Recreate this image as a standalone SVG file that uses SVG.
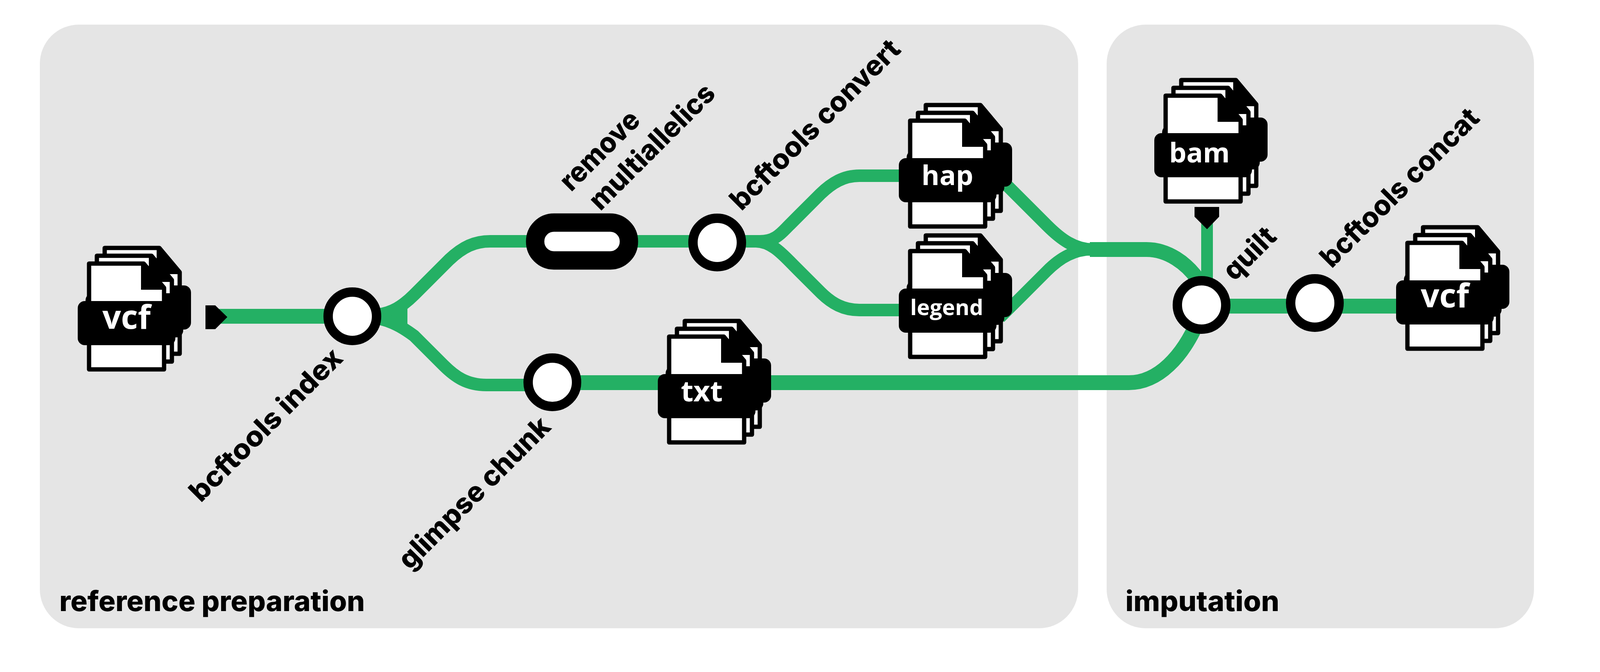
<svg xmlns="http://www.w3.org/2000/svg" width="4098" height="1721" viewBox="0 0 4098 1721">
<style>
.panel{fill:#e5e5e5}
.line{fill:none;stroke:#24b064;stroke-width:32}
.thick{stroke-width:38}
.thin{stroke-width:30}
.stop{fill:#fff;stroke:#000;stroke-width:24}
.pill{fill:#fff;stroke:#000;stroke-width:47}
.lab{font-family:"Inter","Noto Sans",sans-serif;font-weight:800;font-size:72px;fill:#000}
.ft{font-family:"Open Sans","Noto Sans",sans-serif;font-weight:700;fill:#fff}
.sheet{fill:#fff;stroke:#000;stroke-width:11;stroke-linejoin:round}
</style>
<defs>
<g id="page">
<path class="sheet" d="M6 6H146L198 68V277H6Z"/>
<path d="M139 5H146L199 68V73H139Z"/>
<rect x="-23" y="102" width="250" height="113" rx="18"/>
</g>
<g id="stack">
<use href="#page" x="40" y="-40"/>
<use href="#page" x="20" y="-20"/>
<use href="#page"/>
</g>
</defs>
<g id="panels">
<rect class="panel" x="102" y="63" width="2658" height="1546" rx="100"/>
<rect class="panel" x="2833" y="63" width="1094" height="1546" rx="100"/>
<text class="lab" x="152" y="1565" textLength="782" lengthAdjust="spacingAndGlyphs">reference preparation</text>
<text class="lab" x="2881" y="1565" textLength="394" lengthAdjust="spacingAndGlyphs">imputation</text>
</g>
<g id="connectors">
<path class="line thick" d="M555 810H1043"/>
<path class="line" d="M950 808C990 805 1020 795 1060 755L1150 665C1185 632 1215 618 1255 618H1846"/>
<path class="line" d="M950 812C990 818 1020 830 1060 860L1135 935C1165 965 1195 986 1245 986H1414"/>
<path class="line thick" d="M1414 980H1980"/>
<path class="line" d="M1900 618H1945C1985 618 2000 597 2020 577L2100 497C2130 468 2160 450 2200 450H2320"/>
<path class="line" d="M1900 618H1935C1975 618 2005 653 2030 678L2100 748C2130 778 2160 794 2200 794H2320"/>
<path class="line" d="M2560 457L2680 577C2715 612 2750 639 2800 639"/>
<path class="line thin" d="M2560 814L2680 694C2715 659 2750 639 2800 639"/>
<path class="line thick" d="M2790 639H2935C2985 639 3040 670 3076 730V781"/>
<path class="line thin" d="M3090 570V781"/>
<path class="line thick" d="M1980 980H2890C2960 980 3030 920 3076 800"/>
<path class="line thick" d="M3076 784H3600"/>
<path d="M526 782H551L582 812L551 843H526Z"/>
<path d="M3058 530H3121V555L3090 587L3058 555Z"/>
</g>
<g id="file-vcf-in"><use href="#stack" x="222" y="669"/><text class="ft" x="262" y="842" font-size="84">vcf</text></g>
<g id="node-bcftools-index"><circle class="stop" cx="902" cy="810" r="62"/><text class="lab" transform="translate(514 1289) rotate(-45)" textLength="520" lengthAdjust="spacingAndGlyphs">bcftools index</text></g>
<g id="node-remove"><rect class="pill" x="1370" y="570" width="240" height="97" rx="48"/><text class="lab" transform="translate(1462 493) rotate(-45)" textLength="256" lengthAdjust="spacingAndGlyphs">remove</text><text class="lab" transform="translate(1537 542) rotate(-45)" textLength="422" lengthAdjust="spacingAndGlyphs">multiallelics</text></g>
<g id="node-bcftools-convert"><circle class="stop" cx="1836" cy="621" r="62"/><text class="lab" transform="translate(1898 542) rotate(-45)" textLength="582" lengthAdjust="spacingAndGlyphs">bcftools convert</text></g>
<g id="node-glimpse-chunk"><circle class="stop" cx="1414" cy="979" r="62"/><text class="lab" transform="translate(1049 1462) rotate(-45)" textLength="516" lengthAdjust="spacingAndGlyphs">glimpse chunk</text></g>
<g id="file-hap"><use href="#stack" x="2324" y="303"/><text class="ft" x="2359" y="474" font-size="70">hap</text></g>
<g id="file-legend"><use href="#stack" x="2324" y="637"/><text class="ft" x="2330" y="807" font-size="56">legend</text></g>
<g id="file-txt"><use href="#stack" x="1707" y="856"/><text class="ft" x="1743" y="1028" font-size="74">txt</text></g>
<g id="file-bam"><use href="#stack" x="2978" y="239"/><text class="ft" x="2993" y="416" font-size="70">bam</text></g>
<g id="node-quilt"><circle class="stop" cx="3076" cy="781" r="62"/><text class="lab" transform="translate(3160 722) rotate(-45)" textLength="158" lengthAdjust="spacingAndGlyphs">quilt</text></g>
<g id="node-bcftools-concat"><circle class="stop" cx="3366" cy="776" r="62"/><text class="lab" transform="translate(3409 689) rotate(-45)" textLength="541" lengthAdjust="spacingAndGlyphs">bcftools concat</text></g>
<g id="file-vcf-out"><use href="#stack" x="3597" y="616"/><text class="ft" x="3637" y="787" font-size="84">vcf</text></g>
</svg>
